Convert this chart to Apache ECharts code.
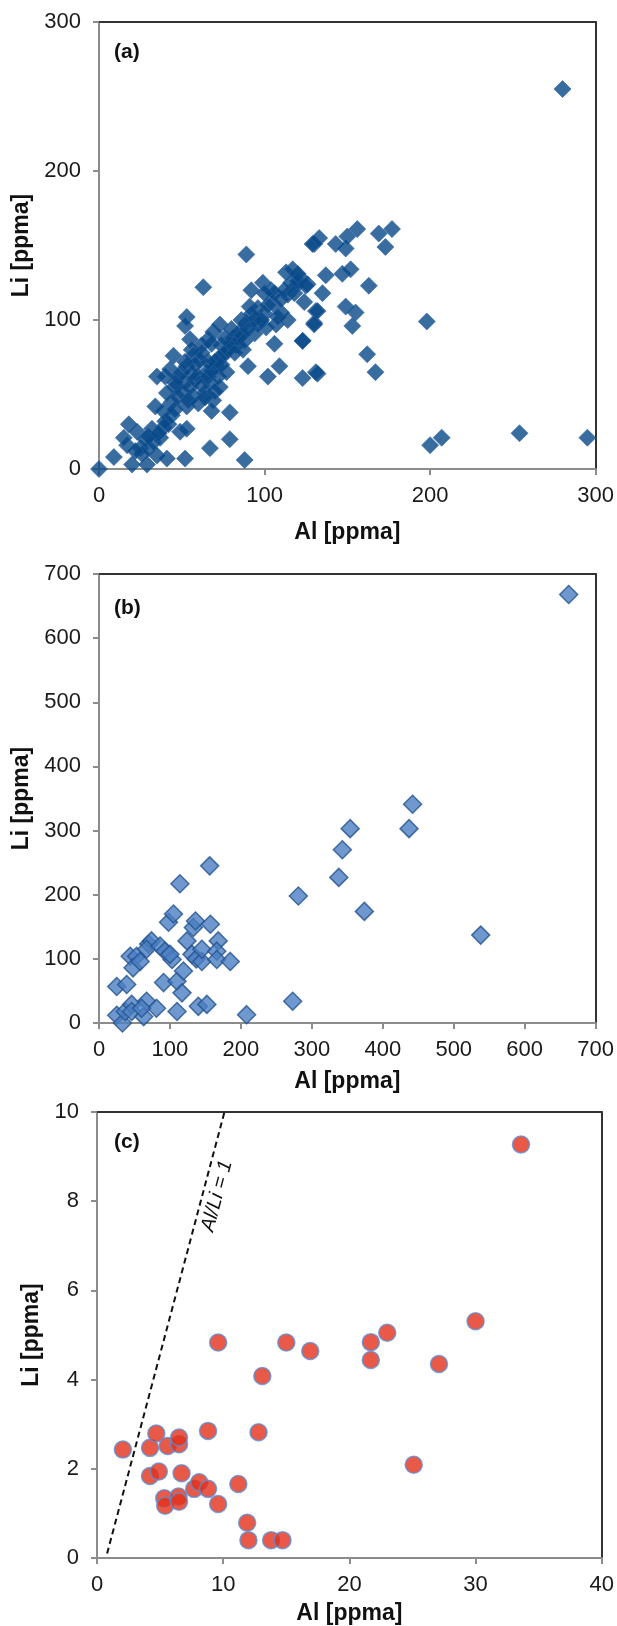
<!DOCTYPE html>
<html>
<head>
<meta charset="utf-8">
<script src="https://cdn.jsdelivr.net/npm/echarts@6/dist/echarts.min.js"></script>
<style>html,body{margin:0;padding:0;background:#fff}#c{width:617px;height:1626px}</style>
</head>
<body>
<div id="c"></div>
<script>
// ---- Panel (a): Al vs Li [ppma] ----
const pointsA = [
  [0,0],[9,8],[18,30],[17,16],[15,21],[20,3],[23,25],[25,14],[29,3],[32,27],[30,14],[35,9],[37,21],[41,7],
  [34,42],[39,39],[39,28],[42,30],[35,62],[40,62],[45,76],[43,67],[46,55],[44,45],[41,51],[49,25],[53,27],[52,7],
  [53,102],[52,96],[55,87],[53,69],[52,58],[53,42],[50,65],[57,76],[61,73],[57,49],[62,83],[63,122],[66,87],[67,14],
  [65,65],[67,58],[64,51],[69,92],[73,97],[71,69],[72,62],[69,46],[68,39],[74,83],[75,76],[77,65],[73,55],[79,38],
  [79,20],[81,88],[83,83],[85,92],[87,80],[88,6],[89,144],[90,69],[89,98],[91,109],[92,120],[94,91],[96,97],
  [99,125],[100,104],[101,95],[104,120],[102,62],[106,84],[105,111],[107,97],[109,69],[110,105],[113,132],[114,117],
  [116,125],[117,134],[119,123],[123,86],[126,124],[130,151],[131,106],[130,98],[131,65],
  [28,20],[33,18],[26,10],[22,12],[30,22],[36,24],[40,32],[44,36],[46,40],[48,48],[50,52],[55,55],[58,60],[60,62],
  [62,56],[66,62],[68,66],[70,72],[72,74],[74,70],[76,78],[78,80],[80,84],[82,78],[84,88],[86,90],[88,86],[56,64],
  [58,70],[52,72],[48,62],[46,58],[54,46],[60,44],[64,48],[70,52],[66,72],[62,78],[56,80],[68,84],[76,88],[80,94],
  [90,94],[94,100],[96,108],[98,100],[102,110],[106,118],[110,114],[112,120],[118,118],[120,126],[122,128],[124,112],
  [86,100],[92,104],[100,118],[108,102],[114,100],
  [129,151],[133,155],[143,151],[149,148],[150,156],[156,161],[169,158],[177,161],[173,149],[125,123],[137,130],
  [135,118],[147,131],[152,134],[163,123],[120,131],[132,106],[130,97],[149,109],[155,105],[153,96],[123,86],
  [162,77],[167,65],[123,61],[132,64],[198,99],[200,16],[207,21],[254,24],[295,21],[280,255]
];
// ---- Panel (b) ----
const pointsB = [
  [25,57],[39,60],[25,12],[33,0],[37,18],[46,29],[44,104],[53,104],[48,86],[58,96],[46,18],[63,10],[67,34],[81,23],
  [60,23],[70,123],[74,128],[67,115],[86,120],[93,112],[91,63],[98,157],[105,170],[103,99],[100,107],[110,18],
  [110,65],[114,217],[119,81],[117,47],[124,128],[133,149],[136,159],[131,107],[140,26],[152,29],[137,100],[145,96],
  [157,154],[156,245],[145,115],[168,128],[166,112],[166,99],[185,96],[208,13],[281,198],[273,34],
  [662,668],[442,341],[437,303],[354,303],[343,270],[338,227],[374,174],[538,137]
];
// ---- Panel (c) ----
const pointsC = [
  [2.05,2.43],[4.2,2.47],[4.7,2.79],[5.6,2.51],[6.5,2.55],[6.5,2.7],[4.2,1.84],[4.9,1.94],[5.33,1.34],[5.4,1.17],
  [6.46,1.38],[6.5,1.26],[6.7,1.9],[7.7,1.55],[8.1,1.7],[8.8,1.55],[8.8,2.85],[9.6,1.21],[9.6,4.83],[11.2,1.66],
  [11.9,0.79],[12.0,0.4],[12.8,2.82],[13.1,4.08],[13.8,0.4],[14.7,0.4],[15.0,4.83],[16.9,4.64],
  [21.7,4.84],[21.7,4.44],[23.0,5.05],[25.1,2.09],[27.1,4.35],[30.0,5.31],[33.6,9.27]
];
// Al/Li = 1 reference line (panel c)
const refLine = [[0.8,0.1],[10.1,10]];

const ticksA = {min:0, max:300, interval:100};
const ticksB = {min:0, max:700, interval:100};
const ticksCx = {min:0, max:40, interval:10};
const ticksCy = {min:0, max:10, interval:2};

const FONT = "'Liberation Sans', Arial, sans-serif";
const axisGray = '#8c8c8c';

function bottomAxis(grid, t, gap) {
  return {type:'value', gridIndex:grid, position:'bottom', min:t.min, max:t.max, interval:t.interval,
    name:'Al [ppma]', nameLocation:'middle', nameGap:gap,
    nameTextStyle:{fontFamily:FONT, fontSize:23, fontWeight:'bold', color:'#111'},
    axisLine:{show:true, onZero:false, lineStyle:{color:axisGray, width:2}},
    axisTick:{show:true, length:6, lineStyle:{color:axisGray, width:2}},
    axisLabel:{fontFamily:FONT, fontSize:22, color:'#1a1a1a', margin:16},
    splitLine:{show:false}};
}
function leftAxis(grid, t, gap) {
  return {type:'value', gridIndex:grid, position:'left', min:t.min, max:t.max, interval:t.interval,
    name:'Li [ppma]', nameLocation:'middle', nameGap:gap, nameRotate:90,
    nameTextStyle:{fontFamily:FONT, fontSize:23, fontWeight:'bold', color:'#111'},
    axisLine:{show:true, onZero:false, lineStyle:{color:axisGray, width:2}},
    axisTick:{show:true, length:6, lineStyle:{color:axisGray, width:2}},
    axisLabel:{fontFamily:FONT, fontSize:22, color:'#1a1a1a', margin:18},
    splitLine:{show:false}};
}
function borderAxis(grid, t, pos) {
  return {type:'value', gridIndex:grid, position:pos, min:t.min, max:t.max, interval:t.interval,
    axisLine:{show:true, onZero:false, lineStyle:{color:'#333', width:2}},
    axisTick:{show:false}, axisLabel:{show:false}, splitLine:{show:false}};
}

const option = {
  animation:false,
  backgroundColor:'#fff',
  grid:[
    {left:99, top:22, width:499, height:447},
    {left:99, top:574, width:498, height:449},
    {left:97, top:1112, width:506, height:446}
  ],
  xAxis:[
    bottomAxis(0, ticksA, 52), borderAxis(0, ticksA, 'top'),
    bottomAxis(1, ticksB, 47), borderAxis(1, ticksB, 'top'),
    bottomAxis(2, ticksCx, 44), borderAxis(2, ticksCx, 'top')
  ],
  yAxis:[
    leftAxis(0, ticksA, 63), borderAxis(0, ticksA, 'right'),
    leftAxis(1, ticksB, 63), borderAxis(1, ticksB, 'right'),
    leftAxis(2, ticksCy, 44), borderAxis(2, ticksCy, 'right')
  ],
  series:[
    {type:'scatter', xAxisIndex:0, yAxisIndex:0, data:pointsA, symbol:'diamond', symbolSize:17,
      itemStyle:{color:'#074888', borderColor:'#2f64a6', borderWidth:0.8}},
    {type:'scatter', xAxisIndex:2, yAxisIndex:2, data:pointsB, symbol:'diamond', symbolSize:18,
      itemStyle:{color:'#4a7ec2', borderColor:'#24528f', borderWidth:1.5}},
    {type:'line', xAxisIndex:4, yAxisIndex:4, data:refLine, symbol:'none',
      lineStyle:{color:'#111', width:2, type:[6,4]}, z:1},
    {type:'scatter', xAxisIndex:4, yAxisIndex:4, data:pointsC, symbol:'circle', symbolSize:17,
      itemStyle:{color:'#e2301a', borderColor:'#5b8fd6', borderWidth:1.5}}
  ],
  graphic:[
    {type:'text', left:114, top:42, style:{text:'(a)', font:"bold 21px "+FONT, fill:'#111'}},
    {type:'text', left:114, top:598, style:{text:'(b)', font:"bold 21px "+FONT, fill:'#111'}},
    {type:'text', left:114, top:1132, style:{text:'(c)', font:"bold 21px "+FONT, fill:'#111'}},
    {type:'text', x:217, y:1196, rotation:75*Math.PI/180,
      style:{text:'Al/Li = 1', font:"italic 20px "+FONT, fill:'#111', align:'center', verticalAlign:'middle'}}
  ]
};
const chart = echarts.init(document.getElementById('c'));
chart.setOption(option);
</script>
</body>
</html>
